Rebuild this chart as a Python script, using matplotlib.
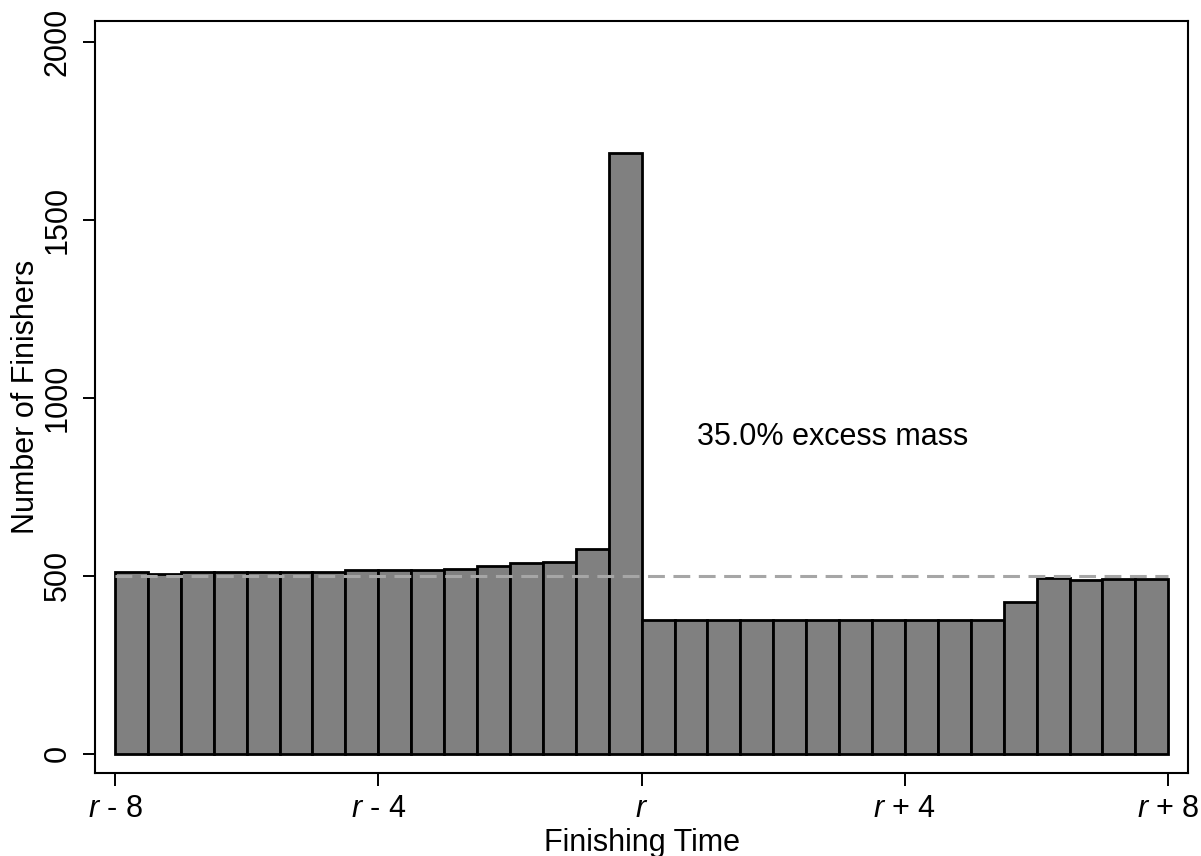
import numpy as np
import matplotlib
matplotlib.use("Agg")
import matplotlib.pyplot as plt

plt.rcParams['font.family'] = ['Liberation Sans', 'DejaVu Sans']

# bins of half a unit, from r-8 to r+8 (left edges)
bin_left = np.arange(-8, 8, 0.5)
counts = [510, 506, 510, 510, 510, 510, 510, 516, 516, 516, 520, 526, 535, 540, 575, 1688,
          375, 375, 375, 375, 375, 375, 375, 375, 375, 375, 375, 427, 495, 489, 492, 490]
counterfactual = 500
tick_pos = [-8, -4, 0, 4, 8]
tick_labels = [r'$\mathit{r}$ - 8', r'$\mathit{r}$ - 4', r'$\mathit{r}$',
               r'$\mathit{r}$ + 4', r'$\mathit{r}$ + 8']
y_ticks = [0, 500, 1000, 1500, 2000]
note = "35.0% excess mass"

plt.rcParams['mathtext.fontset'] = 'custom'
plt.rcParams['mathtext.it'] = 'Liberation Sans:italic'
plt.rcParams['mathtext.rm'] = 'Liberation Sans'

fig = plt.figure(figsize=(12.01, 8.56), dpi=100)
ax = fig.add_axes([95 / 1201, 1 - 773 / 856, (1188 - 95) / 1201, (773 - 21) / 856])

ax.bar(bin_left, counts, width=0.5, align='edge', color='#808080',
       edgecolor='black', linewidth=2.0, zorder=2)
ax.plot([-8, 8], [counterfactual, counterfactual], color='#a6a6a6',
        linestyle=(0, (5.5, 2.8)), linewidth=2.2, zorder=3)

ax.set_xlim(-8.304, 8.3)
ax.set_ylim(-54, 2058)
ax.set_xticks(tick_pos)
ax.set_xticklabels(tick_labels, fontsize=22)
ax.set_yticks(y_ticks)
ax.set_yticklabels([str(v) for v in y_ticks], fontsize=22, rotation=90, va='center')
ax.tick_params(length=9, width=1.4)
ax.tick_params(axis='x', pad=6)
ax.tick_params(axis='y', pad=7)
for s in ax.spines.values():
    s.set_linewidth(1.5)

ax.set_xlabel("Finishing Time", fontsize=22, labelpad=3)
ax.set_ylabel("Number of Finishers", fontsize=22, labelpad=1)
ax.text(0.84, 890, note, fontsize=22, va='center', ha='left')

fig.savefig("out.png", dpi=100)
